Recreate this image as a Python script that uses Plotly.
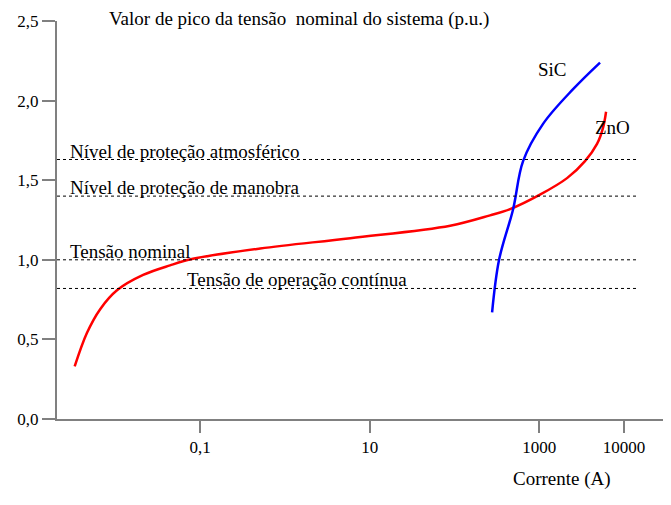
import plotly.graph_objects as go

# curva ZnO (corrente em A, tensão em p.u.)
zno_i = [0.0033, 0.0046, 0.0066, 0.0105, 0.0212, 0.044, 0.082, 0.51, 5.9,
         89, 263, 453, 1020, 2130, 3470, 4810, 5660, 6150]
zno_v = [0.33, 0.54, 0.69, 0.81, 0.905, 0.965, 1.006, 1.071, 1.136,
         1.214, 1.279, 1.318, 1.409, 1.513, 1.62, 1.728, 1.829, 1.93]

# curva SiC
sic_i = [278, 336, 492, 645, 1110, 2510, 5220]
sic_v = [0.67, 1.0, 1.318, 1.62, 1.854, 2.072, 2.239]

# níveis de referência (p.u.)
niveis = ["Nível de proteção atmosférico", "Nível de proteção de manobra",
          "Tensão nominal", "Tensão de operação contínua"]
niveis_v = [1.63, 1.40, 1.0, 0.82]
niveis_x = [0.018, 0.018, 0.018, 0.208]  # posição do texto (fração do eixo)

x_ticks = [0.1, 10, 1000, 10000]
x_labels = ["0,1", "10", "1000", "10000"]
y_ticks = [0, 0.5, 1.0, 1.5, 2.0, 2.5]
y_labels = ["0,0", "0,5", "1,0", "1,5", "2,0", "2,5"]

FONT = "Liberation Serif, Times New Roman, serif"

fig = go.Figure()
fig.add_trace(go.Scatter(x=zno_i, y=zno_v, mode="lines", line=dict(color="#ff0000", width=2.5, shape="spline"), name="ZnO"))
fig.add_trace(go.Scatter(x=sic_i, y=sic_v, mode="lines", line=dict(color="#0000ff", width=2.5, shape="spline"), name="SiC"))

for nome, v, xt in zip(niveis, niveis_v, niveis_x):
    fig.add_shape(type="line", xref="x domain", yref="y", x0=0, x1=0.945, y0=v, y1=v,
                  line=dict(color="black", width=1, dash="dot"))
    fig.add_annotation(text=nome, xref="x domain", yref="y", x=xt, y=v, xanchor="left", yanchor="bottom",
                       showarrow=False, font=dict(size=19, color="black"), yshift=-4)

fig.add_annotation(text="Valor de pico da tensão  nominal do sistema (p.u.)", xref="paper", yref="paper",
                   x=0.081, y=1.005, xanchor="left", yanchor="middle", showarrow=False, font=dict(size=19))
fig.add_annotation(text="SiC", xref="paper", yref="paper", x=0.834, y=0.91, showarrow=False, font=dict(size=19))
fig.add_annotation(text="ZnO", xref="paper", yref="paper", x=0.9365, y=0.764, showarrow=False, font=dict(size=19))
fig.add_annotation(text="Corrente (A)", xref="paper", yref="paper", x=0.9055, y=-0.183, showarrow=False, font=dict(size=19))

# a página tem 8 px de margem no body: figura um pouco menor que a janela
fig.update_layout(
    width=663, height=497,
    margin=dict(l=49, r=0, t=13, b=86),
    plot_bgcolor="white", paper_bgcolor="white",
    showlegend=False,
    font=dict(family=FONT, color="black", size=17),
)
fig.update_xaxes(type="log", range=[-2.69, 4.555], tickvals=x_ticks, ticktext=x_labels, automargin=False,
                 showgrid=False, zeroline=False, showline=True, linecolor="#808080", linewidth=2,
                 ticks="outside", ticklen=12, tickcolor="#808080", tickwidth=1.5)
fig.update_yaxes(range=[0, 2.5], tickvals=y_ticks, ticktext=y_labels, automargin=False,
                 showgrid=False, zeroline=False, showline=True, linecolor="#808080", linewidth=2,
                 ticks="outside", ticklen=13, tickcolor="#808080", tickwidth=1.5)

fig.write_html("out.html")
